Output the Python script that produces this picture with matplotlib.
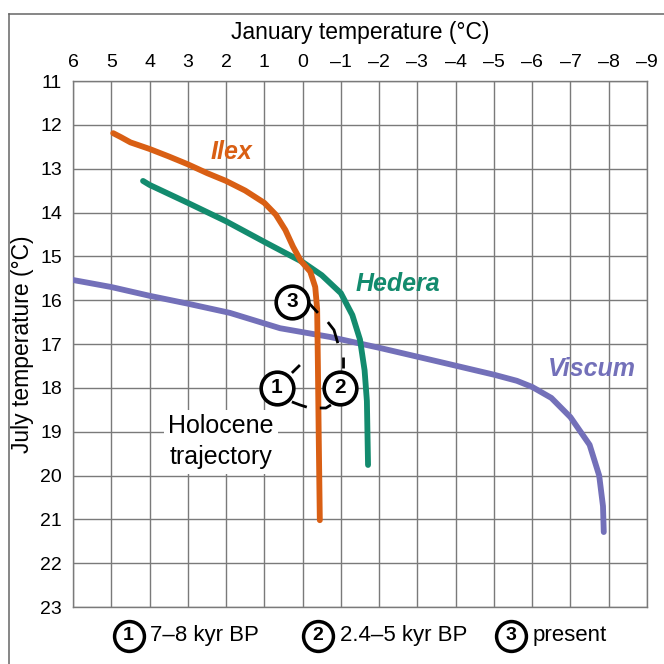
import matplotlib
matplotlib.use("Agg")
import matplotlib.pyplot as plt
from matplotlib.lines import Line2D

plt.rcParams['font.family'] = ['Liberation Sans', 'DejaVu Sans']

# January temperature (x), July temperature (y) along each species limit
ilex_jan = [4.95, 4.75, 4.5, 4.0, 3.5, 3.0, 2.5, 2.0, 1.5, 1.0, 0.7, 0.45, 0.25, 0.05, -0.2, -0.33, -0.38, -0.40, -0.42, -0.45]
ilex_jul = [12.19, 12.28, 12.4, 12.55, 12.72, 12.9, 13.1, 13.28, 13.5, 13.78, 14.05, 14.4, 14.78, 15.1, 15.35, 15.7, 16.2, 17.5, 19.0, 21.02]

hedera_jan = [4.17, 4.0, 3.0, 2.0, 1.0, 0.0, -0.5, -1.0, -1.3, -1.5, -1.62, -1.68, -1.71]
hedera_jul = [13.28, 13.37, 13.78, 14.2, 14.67, 15.13, 15.43, 15.84, 16.34, 16.9, 17.6, 18.3, 19.76]

viscum_jan = [6.0, 5.0, 4.0, 3.0, 1.9, 0.59, -0.72, -2.02, -3.59, -5.0, -5.6, -6.0, -6.5, -7.0, -7.5, -7.75, -7.85, -7.87]
viscum_jul = [15.54, 15.7, 15.9, 16.08, 16.29, 16.64, 16.84, 17.09, 17.41, 17.7, 17.84, 17.98, 18.23, 18.67, 19.3, 20.0, 20.7, 21.29]

# Holocene trajectory: stages and connecting strokes
stage_ids = ['1', '2', '3']
stage_jan = [0.67, -0.98, 0.28]
stage_jul = [18.0, 18.0, 16.04]
stage_text = ['7\u20138 kyr BP', '2.4\u20135 kyr BP', 'present']

traj_segments = [
    ([0.28, 0.07], [17.66, 17.48]),
    ([0.28, 0.07, -0.11], [18.32, 18.39, 18.44]),
    ([-0.45, -0.61, -0.74], [18.46, 18.46, 18.39]),
    ([-0.17, -0.40], [16.07, 16.29]),
    ([-0.66, -0.82, -0.92], [16.5, 16.68, 16.98]),
    ([-1.06, -1.06], [17.3, 17.55]),
]

x_ticks = list(range(6, -10, -1))
x_labels = [str(v) if v >= 0 else '\u2013' + str(-v) for v in x_ticks]
y_ticks = list(range(11, 24))

ORANGE = '#D95F14'
GREEN = '#138B6E'
PURPLE = '#7370B9'
GRID = '#7a7a7a'

fig = plt.figure(figsize=(6.64, 6.64), dpi=100)
ax = fig.add_axes([73/664, 1 - 607/664, (647-73)/664, (607-81)/664])

ax.set_xlim(6, -9)
ax.set_ylim(23, 11)
ax.set_xticks(x_ticks)
ax.set_xticklabels(x_labels)
ax.set_yticks(y_ticks)
ax.xaxis.tick_top()
ax.xaxis.set_label_position('top')
ax.tick_params(length=0, labelsize=14)
ax.tick_params(axis='x', pad=7)
ax.tick_params(axis='y', pad=8)
ax.grid(True, color=GRID, linewidth=1.0)
for s in ax.spines.values():
    s.set_color(GRID)
    s.set_linewidth(1.0)
ax.set_xlabel('January temperature (\u00b0C)', fontsize=16.5, labelpad=11)
ax.set_ylabel('July temperature (\u00b0C)', fontsize=16.5, labelpad=4)

lw = 4.2
ax.plot(viscum_jan, viscum_jul, color=PURPLE, lw=lw, solid_capstyle='round', solid_joinstyle='round', zorder=3)
ax.plot(hedera_jan, hedera_jul, color=GREEN, lw=lw, solid_capstyle='round', solid_joinstyle='round', zorder=4)
ax.plot(ilex_jan, ilex_jul, color=ORANGE, lw=lw, solid_capstyle='round', solid_joinstyle='round', zorder=5)

ax.text(1.86, 12.63, 'Ilex', color=ORANGE, fontsize=18, fontweight='bold', style='italic',
        ha='center', va='center')
ax.text(-2.5, 15.63, 'Hedera', color=GREEN, fontsize=18, fontweight='bold', style='italic',
        ha='center', va='center')
ax.text(-7.55, 17.56, 'Viscum', color=PURPLE, fontsize=18, fontweight='bold', style='italic',
        ha='center', va='center')

for xs, ys in traj_segments:
    ax.plot(xs, ys, color='black', lw=2.0, solid_capstyle='butt', zorder=6)

ax.plot(stage_jan, stage_jul, 'o', ms=23.5, mfc='white', mec='black', mew=2.6, zorder=7,
        linestyle='none')
for sid, sx, sy in zip(stage_ids, stage_jan, stage_jul):
    ax.text(sx, sy, sid, fontsize=15, fontweight='bold', ha='center', va='center', zorder=8)

ax.text(2.13, 19.23, 'Holocene\ntrajectory', fontsize=18, ha='center', va='center',
        linespacing=1.38, zorder=6,
        bbox=dict(facecolor='white', edgecolor='none', pad=3))

# legend row under the grid
leg_cx = [128.5/664, 318/664, 511/664]
leg_y = 1 - 636/664
for sid, cx, txt in zip(stage_ids, leg_cx, stage_text):
    fig.add_artist(Line2D([cx], [leg_y], marker='o', ms=21.5, mfc='white', mec='black',
                          mew=2.5, transform=fig.transFigure))
    fig.text(cx, leg_y, sid, fontsize=14, fontweight='bold', ha='center', va='center')
    fig.text(cx + 22/664, leg_y, txt, fontsize=16, ha='left', va='center')

# outer frame (left and top edges visible)
fig.add_artist(Line2D([9/664, 9/664], [0, 1 - 14/664], color='#666666', lw=1.1,
                      transform=fig.transFigure))
fig.add_artist(Line2D([9/664, 1], [1 - 14/664, 1 - 14/664], color='#666666', lw=1.1,
                      transform=fig.transFigure))

fig.savefig('out.png', dpi=100)
